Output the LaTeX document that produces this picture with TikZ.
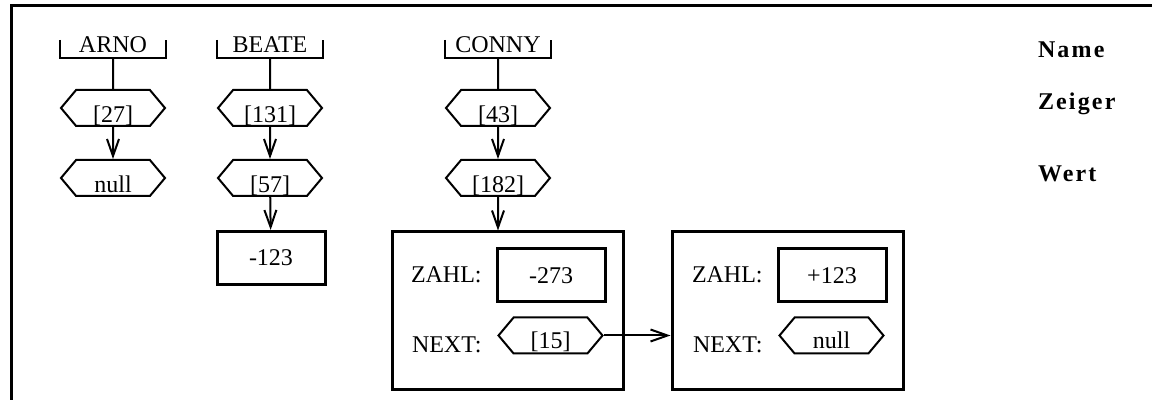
\documentclass[tikz,border=0pt]{standalone}
\usepackage{fontspec}
\setmainfont{Liberation Serif}
\newfontfamily\keyfont[LetterSpace=9]{Liberation Serif}
\usetikzlibrary{shapes.symbols,arrows.meta}

\begin{document}
\begin{tikzpicture}[x=0.5pt,y=-0.5pt,line width=1pt,
	font=\fontsize{12}{14}\selectfont,
	>={Straight Barb[length=8.5pt,width=6pt]},
	namebox/.style={minimum width=52pt, minimum height=8pt, inner sep=0pt, text height=4pt, text depth=0pt},
	ptr/.style={signal, signal to=east and west, signal pointer angle=100, draw, minimum width=52pt, minimum height=18pt, inner sep=0pt, text height=15pt, text depth=0pt},
	val/.style={draw, line width=1.5pt, minimum width=54pt, minimum height=26.5pt, inner sep=0pt},
	rec/.style={draw, line width=1.5pt, minimum width=115.5pt, minimum height=79pt},
	field/.style={anchor=base west, inner sep=0pt},
	keyword/.style={anchor=base west, inner sep=0pt, font=\fontsize{12}{14}\selectfont\keyfont\bfseries}]
	\useasboundingbox (0,0) rectangle (1152,400);
	\draw[line width=1.5pt] (11,400) -- (11,6) -- (1152,6);
	% variable names
	\node (arno)	at (113,49)	[namebox]	{ARNO};
	\node (beate)	at (270,49)	[namebox]	{BEATE};
	\node (conny)	at (498,49)	[namebox]	{CONNY};
	\foreach \n in {arno,beate,conny}
		\draw[line width=1.2pt] (\n.north west) |- (\n.south east) -- (\n.north east);
	% pointers and values
	\node (a27)	at (113,108)	[ptr]	{[27]};
	\node (anull)	at (113,178)	[ptr]	{null};
	\node (b131)	at (270,108)	[ptr]	{[131]};
	\node (b57)	at (270,178)	[ptr]	{[57]};
	\node (bval)	at (271,258)	[val]	{-123};
	\node (c43)	at (498,108)	[ptr]	{[43]};
	\node (c182)	at (498,178)	[ptr]	{[182]};
	% list records
	\node (rec1)	at (507.5,311)	[rec]	{};
	\node (rec2)	at (787.5,311)	[rec]	{};
	\node (zahl1)	at (410,283)	[field]	{ZAHL:};
	\node (next1)	at (411,353)	[field]	{NEXT:};
	\node (zahl2)	at (691,283)	[field]	{ZAHL:};
	\node (next2)	at (692,353)	[field]	{NEXT:};
	\node (v273)	at (551,275.5)	[val]	{-273};
	\node (v123)	at (832,275.5)	[val]	{+123};
	\node (c15)	at (550.5,335.5)	[ptr, text height=13pt]	{[15]};
	\node (cnull)	at (831.5,335.5)	[ptr, text height=13pt]	{null};
	\draw (arno) -- (a27);
	\draw (beate) -- (b131);
	\draw (conny) -- (c43);
	\draw[->] (a27) -- (anull);
	\draw[->] (b131) -- (b57);
	\draw[->] (b57) -- (bval);
	\draw[->] (c43) -- (c182);
	\draw[->] (c182) -- (c182 |- rec1.north);
	\draw[->] (c15.east) -- (c15.east -| rec2.west);
	% legend
	\node (kname)	at (1037,58)	[keyword]	{Name};
	\node (kzeiger)	at (1037,110)	[keyword]	{Zeiger};
	\node (kwert)	at (1037,182)	[keyword]	{Wert};
\end{tikzpicture}
\end{document}
